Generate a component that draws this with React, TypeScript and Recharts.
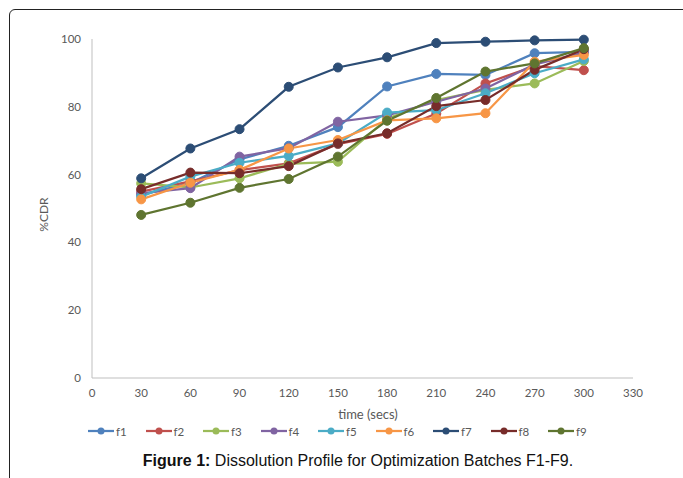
import React from 'react';
import { LineChart, Line, XAxis, YAxis } from 'recharts';

const times = [30, 60, 90, 120, 150, 180, 210, 240, 270, 300];
const xTicks = [0, 30, 60, 90, 120, 150, 180, 210, 240, 270, 300, 330];
const yTicks = [0, 20, 40, 60, 80, 100];

const f1 = [54, 57.5, 64.5, 68.5, 74, 86, 89.7, 89.4, 95.8, 96.2];
const f2 = [55, 58, 61.3, 63.3, 69, 72, 78, 86.9, 92, 90.8];
const f3 = [57.4, 56.2, 58.9, 63.2, 63.8, 76.5, 82, 85, 86.9, 93.5];
const f4 = [54.5, 56, 65.3, 67.8, 75.6, 77.5, 81.5, 85.4, 92.5, 96];
const f5 = [53.5, 59.4, 63.5, 65.5, 69.2, 78.3, 79, 84, 89.9, 94];
const f6 = [52.7, 57.6, 61.4, 67.7, 70.2, 76, 76.6, 78.1, 93.3, 95.3];
const f7 = [58.9, 67.7, 73.4, 85.9, 91.6, 94.6, 98.8, 99.2, 99.6, 99.8];
const f8 = [55.7, 60.6, 60.4, 62.5, 69.2, 72.2, 80.2, 82, 90.9, 97];
const f9 = [48.1, 51.7, 56.1, 58.7, 65.3, 75.9, 82.6, 90.4, 92.8, 97.3];

const seriesNames = ['f1', 'f2', 'f3', 'f4', 'f5', 'f6', 'f7', 'f8', 'f9'];
const seriesValues = [f1, f2, f3, f4, f5, f6, f7, f8, f9];
const colors = ['#4F81BD', '#C0504D', '#9BBB59', '#8064A2', '#4BACC6', '#F79646', '#2C4D75', '#772C2A', '#5F7530'];

const data = times.map((t, i) => {
  const row: Record<string, number> = { time: t };
  seriesNames.forEach((n, k) => {
    row[n] = seriesValues[k][i];
  });
  return row;
});

const tickFont = { fontFamily: 'Lato, "Open Sans", sans-serif', fontSize: 11.5, fill: '#595959' };

export default function App() {
  return (
    <div style={{ position: 'absolute', left: 0, top: 0, width: 683, height: 478, background: '#fff', overflow: 'hidden' }}>
      <div
        style={{
          position: 'absolute',
          left: 9,
          top: 9,
          width: 700,
          height: 500,
          border: '1.5px solid #222',
          borderTopLeftRadius: 6,
          boxSizing: 'border-box',
        }}
      />
      <div style={{ position: 'absolute', left: 0, top: 0 }}>
        <LineChart width={683} height={450} data={data} margin={{ top: 39, right: 50, bottom: 42, left: 0 }}>
          <XAxis
            dataKey="time"
            type="number"
            domain={[0, 330]}
            ticks={xTicks}
            tickLine={false}
            tickMargin={5}
            height={30}
            axisLine={{ stroke: '#BFBFBF' }}
            tick={tickFont}
            interval={0}
          />
          <YAxis
            type="number"
            domain={[0, 100]}
            ticks={yTicks}
            tickLine={false}
            tickMargin={5}
            width={92}
            axisLine={{ stroke: '#BFBFBF' }}
            tick={tickFont}
            interval={0}
            label={{
              value: '%CDR',
              angle: -90,
              position: 'insideLeft',
              offset: 44,
              dy: 6,
              style: { textAnchor: 'middle', fontFamily: 'Lato, "Open Sans", sans-serif', fontSize: 12, fill: '#595959' },
            }}
          />
          {seriesNames.map((n, k) => (
            <Line
              key={n}
              dataKey={n}
              stroke={colors[k]}
              strokeWidth={2.25}
              dot={{ r: 4.5, fill: colors[k], stroke: colors[k], strokeWidth: 1 }}
              isAnimationActive={false}
            />
          ))}
        </LineChart>
      </div>
      <div
        style={{
          position: 'absolute',
          left: 0,
          width: 736,
          top: 406,
          textAlign: 'center',
          fontFamily: 'Lato, "Open Sans", sans-serif',
          fontSize: 13,
          color: '#595959',
        }}
      >
        time (secs)
      </div>
      <div style={{ position: 'absolute', left: 0, top: 423, width: 683, height: 16 }}>
        {seriesNames.map((n, k) => (
          <div
            key={n}
            style={{
              position: 'absolute',
              left: 88 + k * 57.5,
              top: 0,
              display: 'flex',
              alignItems: 'center',
              height: 16,
            }}
          >
            <svg width={26} height={16}>
              <line x1={0} y1={8} x2={26} y2={8} stroke={colors[k]} strokeWidth={2.25} />
              <circle cx={13} cy={8} r={3.5} fill={colors[k]} />
            </svg>
            <span
              style={{
                marginLeft: 2,
                fontFamily: 'Lato, "Open Sans", sans-serif',
                fontSize: 11.5,
                color: '#595959',
              }}
            >
              {n}
            </span>
          </div>
        ))}
      </div>
      <div
        style={{
          position: 'absolute',
          left: 0,
          width: 716,
          top: 452,
          textAlign: 'center',
          fontFamily: '"Liberation Sans", Arial, sans-serif',
          fontSize: 16,
          color: '#111',
        }}
      >
        <b>Figure 1:</b> Dissolution Profile for Optimization Batches F1-F9.
      </div>
    </div>
  );
}
